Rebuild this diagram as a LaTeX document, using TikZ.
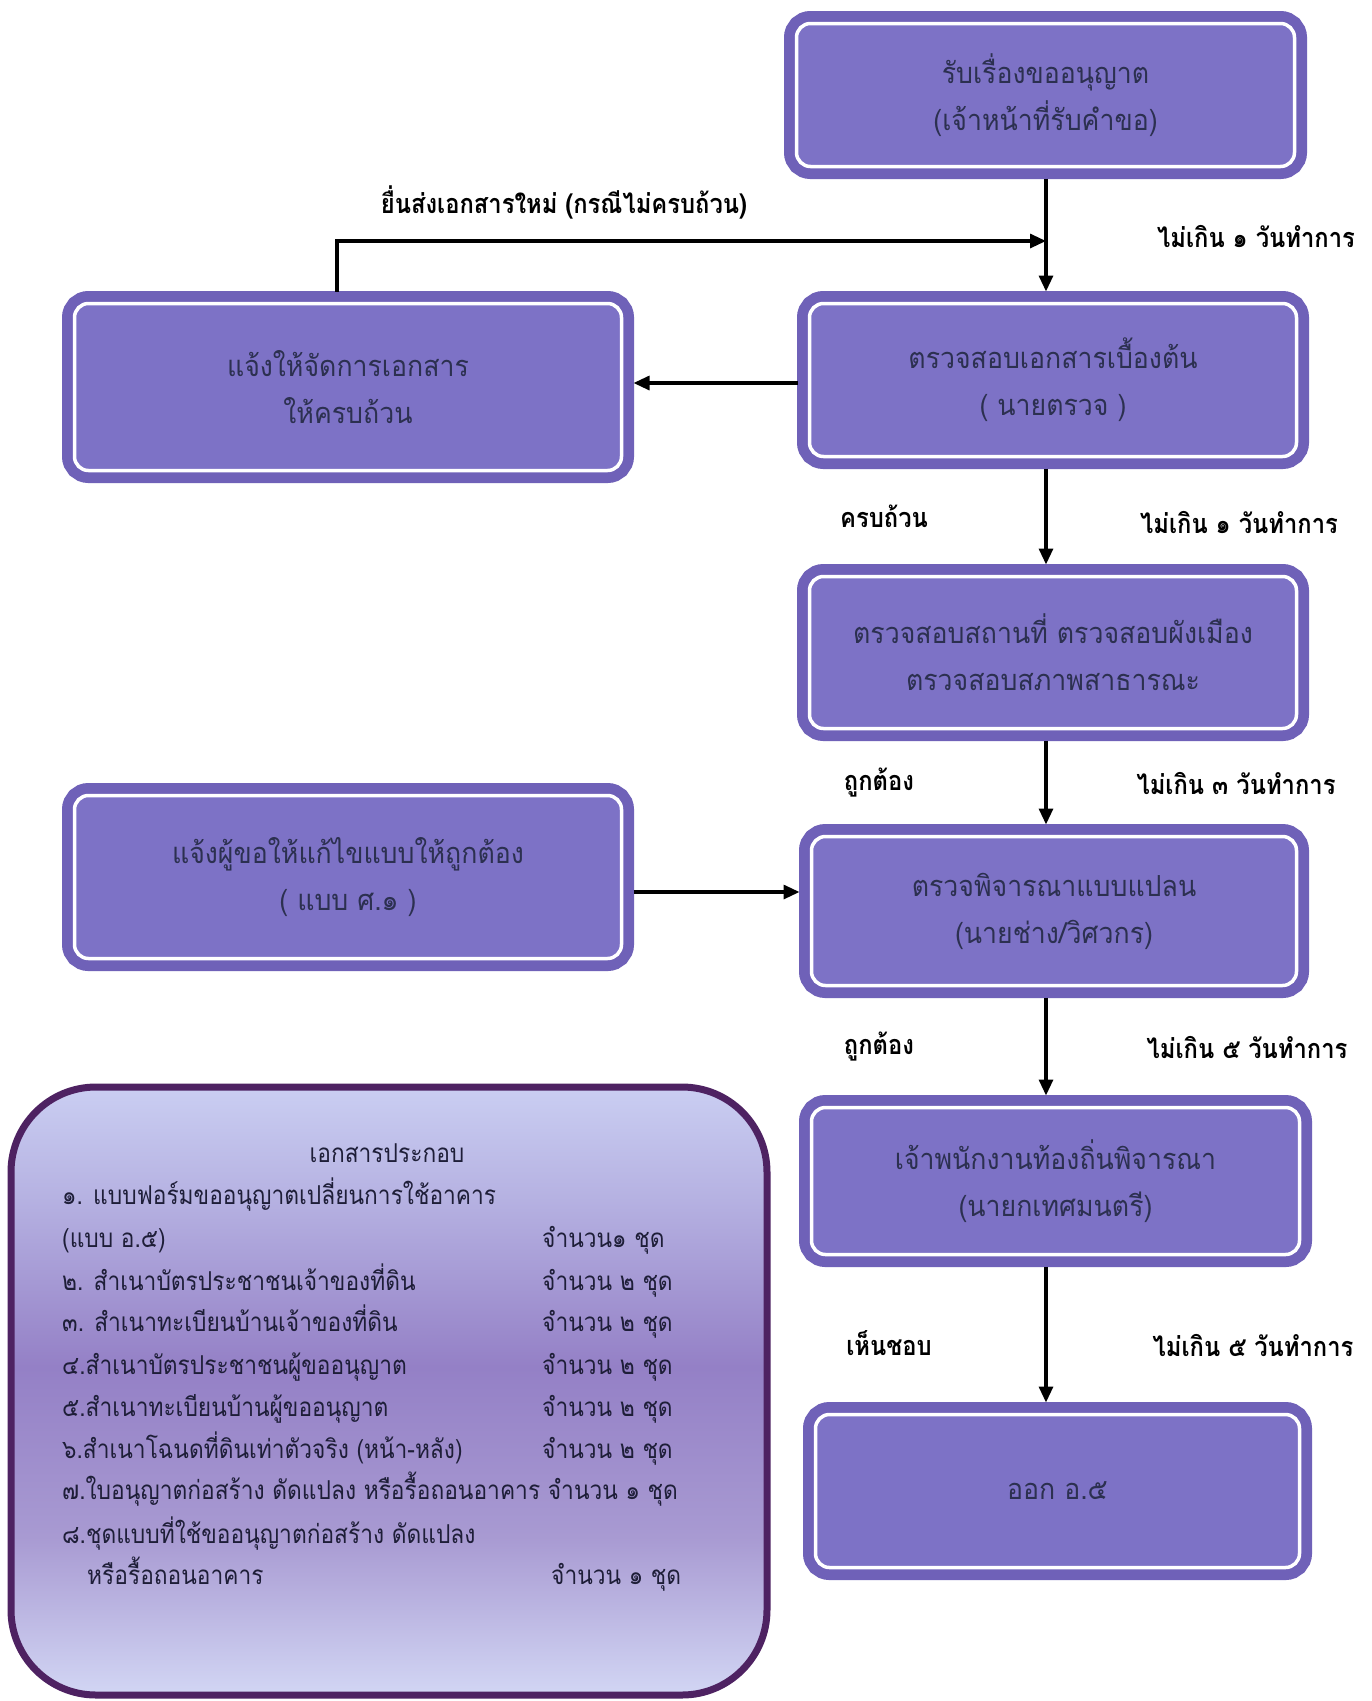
\documentclass[tikz,border=0pt]{standalone}
\usepackage{fontspec}
\newfontfamily\thaibox[Script=Thai,FakeStretch=0.92]{Loma}
\newfontfamily\thaileg[Script=Thai,FakeStretch=0.875]{Loma}
\newfontfamily\thailab[Script=Thai,FakeStretch=0.88]{Loma}
\usetikzlibrary{arrows.meta}
\definecolor{boxfill}{HTML}{7D72C6}
\definecolor{boxedge}{HTML}{6F61B8}
\definecolor{boxtext}{HTML}{2C3050}
\definecolor{legedge}{HTML}{4E2262}
\definecolor{legtext}{HTML}{1E1E38}
\definecolor{lgTop}{HTML}{CACEF2}
\definecolor{lgUp}{HTML}{B6B2E2}
\definecolor{lgMid}{HTML}{9480C6}
\definecolor{lgLow}{HTML}{A89AD2}
\definecolor{lgBot}{HTML}{D2D6F4}
\pgfdeclareverticalshading{legshade}{100bp}{
  color(0bp)=(lgBot); color(25bp)=(lgBot); color(38bp)=(lgLow); color(52bp)=(lgMid);
  color(66bp)=(lgUp); color(75bp)=(lgTop); color(100bp)=(lgTop)}
\tikzset{
  flowbox/.style={preaction={draw=boxedge, line width=25pt}, fill=boxfill, draw=white,
    line width=3.5pt, rounded corners=14pt, outer sep=12pt, align=center,
    text=boxtext, font=\thaibox\fontsize{29}{47}\selectfont},
  arr/.style={draw=black, line width=3.2pt, -{Triangle[length=16pt,width=14pt]}},
  lab/.style={font=\thailab\bfseries\fontsize{27}{30}\selectfont, text=black},
  legline/.style={anchor=base west, font=\thaileg\fontsize{26}{30}\selectfont, text=legtext, inner sep=0pt}
}
\begin{document}
\begin{tikzpicture}[x=1pt,y=-1pt]
\useasboundingbox (0,0) rectangle (1372,1701);
\fill[white] (0,0) rectangle (1372,1701);
% boxes (outer extents minus 25)
\node[flowbox, minimum width=498, minimum height=143] (b1) at (1045.5,95) {รับเรื่องขออนุญาต\\(เจ้าหน้าที่รับคำขอ)};
\node[flowbox, minimum width=547, minimum height=167] (l1) at (348,387) {แจ้งให้จัดการเอกสาร\\ให้ครบถ้วน};
\node[flowbox, minimum width=487, minimum height=153] (b2) at (1053,380) {ตรวจสอบเอกสารเบื้องต้น\\( นายตรวจ )};
\node[flowbox, minimum width=487, minimum height=152] (b3) at (1053,652.5) {ตรวจสอบสถานที่ ตรวจสอบผังเมือง\\ตรวจสอบสภาพสาธารณะ};
\node[flowbox, minimum width=547, minimum height=163] (l2) at (348,877) {แจ้งผู้ขอให้แก้ไขแบบให้ถูกต้อง\\( แบบ ศ.๑ )};
\node[flowbox, minimum width=485, minimum height=149] (b4) at (1054,911) {ตรวจพิจารณาแบบแปลน\\(นายช่าง/วิศวกร)};
\node[flowbox, minimum width=488, minimum height=147] (b5) at (1055.5,1181) {เจ้าพนักงานท้องถิ่นพิจารณา\\(นายกเทศมนตรี)};
\node[flowbox, minimum width=484, minimum height=153] (b6) at (1057.5,1491) {ออก อ.๕};
% vertical axis
\coordinate (ax) at (1046,0);
\coordinate (j) at (1046,241);
\draw[arr] (b1.south -| ax) -- (b2.north -| ax);
\draw[arr] ([xshift=-11pt]l1.north) |- (j);
\draw[arr] (b2.west |- 0,383) -- (l1.east |- 0,383);
\draw[arr] (b2.south -| ax) -- (b3.north -| ax);
\draw[arr] (b3.south -| ax) -- (b4.north -| ax);
\draw[arr] (l2.east |- 0,892) -- (b4.west |- 0,892);
\draw[arr] (b4.south -| ax) -- (b5.north -| ax);
\draw[arr] (b5.south -| ax) -- (b6.north -| ax);
% labels
\node[lab] (t0) at (564,202) {ยื่นส่งเอกสารใหม่ (กรณีไม่ครบถ้วน)};
\node[lab] (t1) at (1256,236) {ไม่เกิน ๑ วันทำการ};
\node[lab] (t2) at (884,516) {ครบถ้วน};
\node[lab] (t3) at (1239,522) {ไม่เกิน ๑ วันทำการ};
\node[lab] (t4) at (879,783) {ถูกต้อง};
\node[lab] (t5) at (1236,783) {ไม่เกิน ๓ วันทำการ};
\node[lab] (t6) at (879,1047) {ถูกต้อง};
\node[lab] (t7) at (1247,1047) {ไม่เกิน ๕ วันทำการ};
\node[lab] (t8) at (889,1343) {เห็นชอบ};
\node[lab] (t9) at (1253,1345) {ไม่เกิน ๕ วันทำการ};
% legend box
\shade[shading=legshade, draw=legedge, line width=7pt, rounded corners=85pt] (11,1087) rectangle (767,1695);
\node[text=legtext, font=\thaileg\fontsize{26}{30}\selectfont] (lt) at (387,1153) {เอกสารประกอบ};
\node[legline] (g1) at (62,1204) {๑. แบบฟอร์มขออนุญาตเปลี่ยนการใช้อาคาร};
\node[legline] (g2) at (62,1247) {(แบบ อ.๕)};
\node[legline] (g2r) at (542,1247) {จำนวน๑ ชุด};
\node[legline] (g3) at (62,1290) {๒. สำเนาบัตรประชาชนเจ้าของที่ดิน};
\node[legline] (g3r) at (542,1290) {จำนวน ๒ ชุด};
\node[legline] (g4) at (62,1331) {๓. สำเนาทะเบียนบ้านเจ้าของที่ดิน};
\node[legline] (g4r) at (542,1331) {จำนวน ๒ ชุด};
\node[legline] (g5) at (62,1374) {๔.สำเนาบัตรประชาชนผู้ขออนุญาต};
\node[legline] (g5r) at (542,1374) {จำนวน ๒ ชุด};
\node[legline] (g6) at (62,1416) {๕.สำเนาทะเบียนบ้านผู้ขออนุญาต};
\node[legline] (g6r) at (542,1416) {จำนวน ๒ ชุด};
\node[legline] (g7) at (62,1458) {๖.สำเนาโฉนดที่ดินเท่าตัวจริง (หน้า-หลัง)};
\node[legline] (g7r) at (542,1458) {จำนวน ๒ ชุด};
\node[legline] (g8) at (62,1499) {๗.ใบอนุญาตก่อสร้าง ดัดแปลง หรือรื้อถอนอาคาร จำนวน ๑ ชุด};
\node[legline] (g9) at (62,1543) {๘.ชุดแบบที่ใช้ขออนุญาตก่อสร้าง ดัดแปลง};
\node[legline] (g10) at (87,1584) {หรือรื้อถอนอาคาร};
\node[legline] (g10r) at (551,1584) {จำนวน ๑ ชุด};
\end{tikzpicture}
\end{document}
